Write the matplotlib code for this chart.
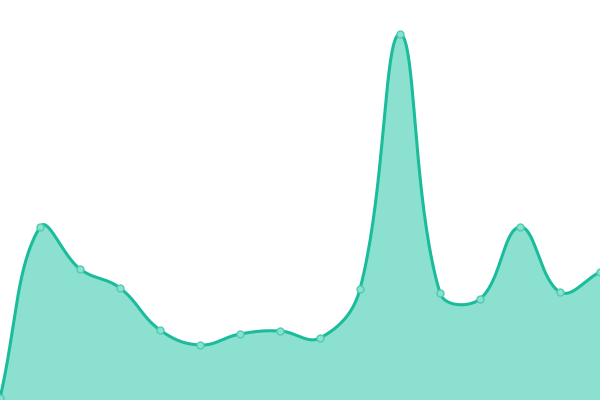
import numpy as np
import matplotlib
matplotlib.use("Agg")
import matplotlib.pyplot as plt

labels = list(range(16))
values = [2, 173, 131, 112, 70, 55, 66, 69, 62, 111, 366, 107, 101, 173, 108, 128]

line_color = "#1abc9c"
fill_color = "#8ce0cf"
tension = 0.4


def spline_path(xs, ys, t=0.4, steps=40):
    # chart.js style bezier control points
    n = len(xs)
    pts = np.column_stack([xs, ys]).astype(float)
    cp_prev = pts.copy()
    cp_next = pts.copy()
    for i in range(n):
        first = pts[i - 1] if i > 0 else pts[i]
        mid = pts[i]
        after = pts[i + 1] if i < n - 1 else pts[i]
        d01 = np.hypot(*(mid - first))
        d12 = np.hypot(*(after - mid))
        tot = d01 + d12
        s01 = d01 / tot if tot else 0
        s12 = d12 / tot if tot else 0
        cp_prev[i] = mid - t * s01 * (after - first)
        cp_next[i] = mid + t * s12 * (after - first)
    out = []
    u = np.linspace(0, 1, steps)[:, None]
    for i in range(n - 1):
        p0, p1, p2, p3 = pts[i], cp_next[i], cp_prev[i + 1], pts[i + 1]
        seg = ((1 - u) ** 3) * p0 + 3 * ((1 - u) ** 2) * u * p1 + 3 * (1 - u) * u ** 2 * p2 + u ** 3 * p3
        out.append(seg if i == 0 else seg[1:])
    return np.vstack(out)


# work in pixel space: 40 px per label step, 1 px per unit
px = np.array(labels) * 40.0
curve = spline_path(px, values, tension)
cx = curve[:, 0] / 40.0
cy = curve[:, 1]

fig = plt.figure(figsize=(6, 4), dpi=100)
ax = fig.add_axes([0, 0, 1, 1])
ax.fill_between(cx, 0, cy, color=fill_color, lw=0)
ax.plot(cx, cy, color=line_color, lw=2.2, solid_capstyle="round")
ax.plot(labels, values, "o", ms=5, mfc="#8ce0cf", mec="#4fcdb2", mew=1.0)
ax.set_xlim(0, 15)
ax.set_ylim(0, 400)
ax.axis("off")
fig.savefig("out.png", dpi=100)
